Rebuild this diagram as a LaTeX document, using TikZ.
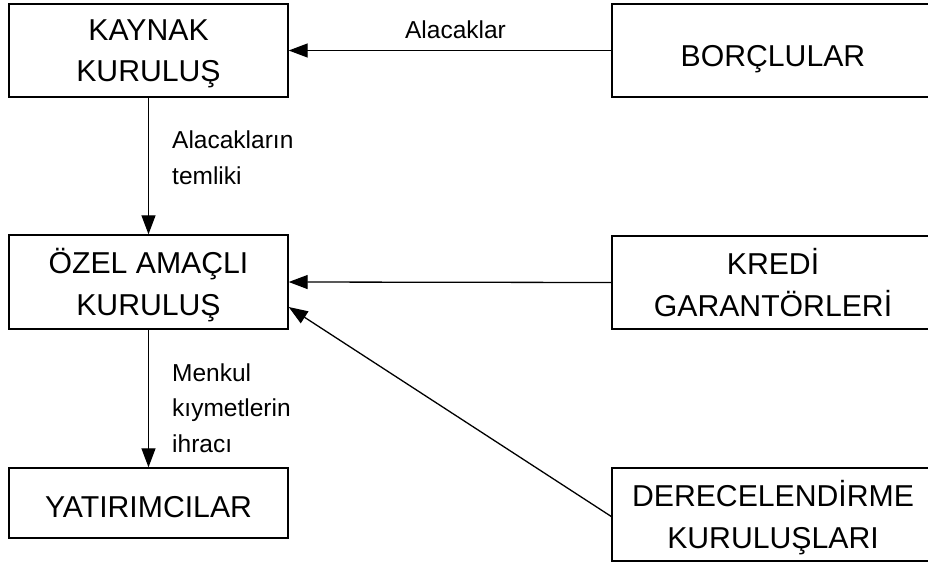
\documentclass[tikz,border=0pt]{standalone}
\usepackage{fontspec}
\setmainfont{Liberation Sans}
\usetikzlibrary{arrows.meta}
\begin{document}
\begin{tikzpicture}[x=1pt,y=-1pt,
  box/.style={draw=black,line width=1.4pt,inner sep=0pt,align=center,text depth=0pt,
    font=\fontsize{30.2}{41.5}\selectfont},
  lbl/.style={inner sep=0pt,align=left,font=\fontsize{24.5}{35.5}\selectfont},
  conn/.style={line width=1.3pt,-{Triangle[length=19pt,width=14pt]}}]
\useasboundingbox[fill=white] (0,0) rectangle (928,565);
\node[box,minimum width=279pt,minimum height=93pt] (kay) at (148.5,50.5) {KAYNAK\\KURULUŞ};
\node[box,minimum width=279pt,minimum height=94pt] (oze) at (148.5,282) {ÖZEL AMAÇLI\\KURULUŞ};
\node[box,minimum width=279pt,minimum height=70pt,text height=29pt] (yat) at (148.5,503) {YATIRIMCILAR};
\node[box,minimum width=322pt,minimum height=93pt,text height=32pt] (bor) at (773,50.5) {BORÇLULAR};
\node[box,minimum width=322pt,minimum height=93pt] (kre) at (773,282.5) {KREDİ\\GARANTÖRLERİ};
\node[box,minimum width=322pt,minimum height=93pt] (der) at (773,514.5) {DERECELENDİRME\\KURULUŞLARI};
\draw[conn] (bor.west) -- (kay.east);
\draw[conn] (kay.south) -- (oze.north);
\draw[conn] (kre.west) -- (oze.east);
\draw[conn] ([yshift=-2pt]der.west) -- ([yshift=-25pt]oze.east);
\draw[conn] (oze.south) -- (yat.north);
\node[lbl,anchor=base] (l1) at (455.5,38) {Alacaklar};
\node[lbl,anchor=base west] (l2) at (172,184) {Alacakların\\temliki};
\node[lbl,anchor=base west] (l3) at (172,452) {Menkul\\kıymetlerin\\ihracı};
\end{tikzpicture}
\end{document}
